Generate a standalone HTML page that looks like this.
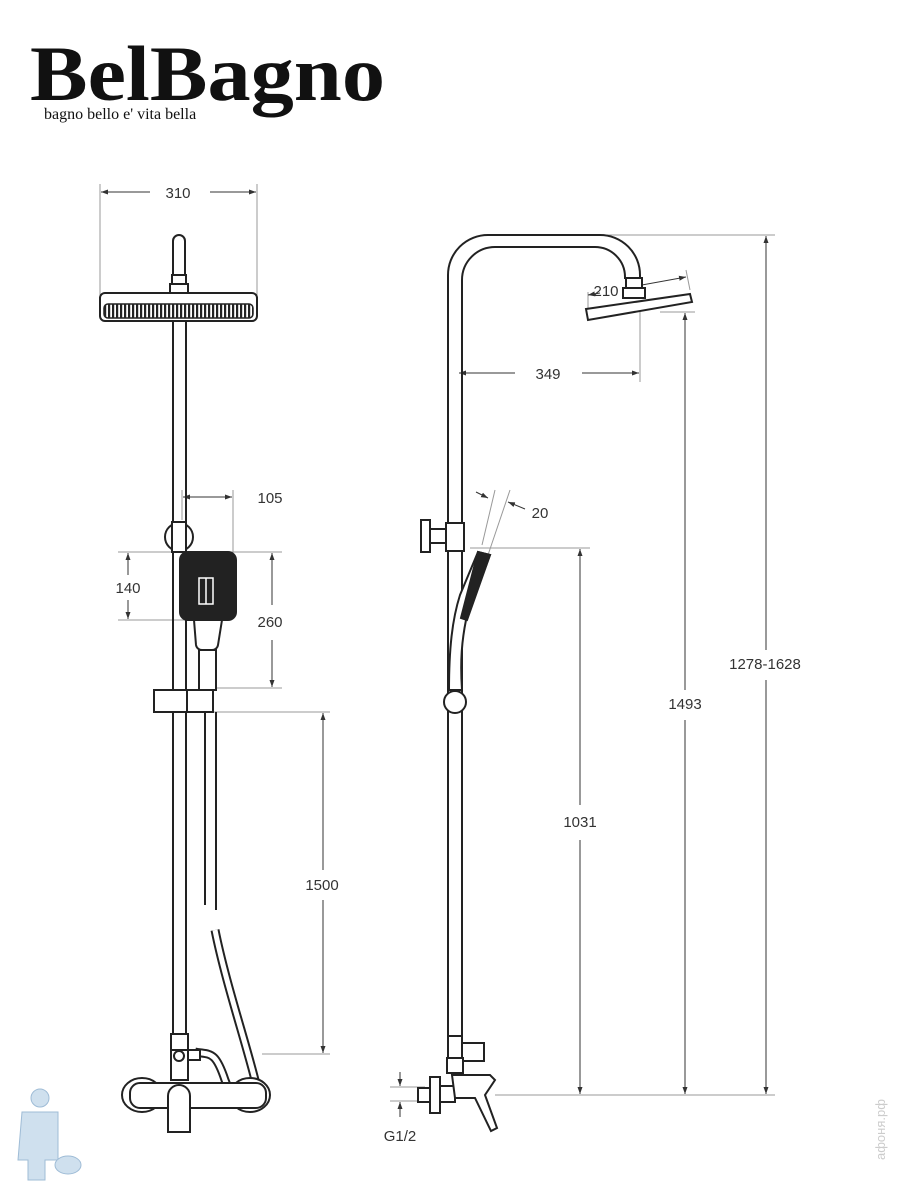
<!DOCTYPE html>
<html><head><meta charset="utf-8"><style>
html,body{margin:0;padding:0;background:#fff;}
svg{display:block}
text{font-family:"Liberation Sans",sans-serif;fill:#333;}
</style></head><body>
<svg width="900" height="1200" viewBox="0 0 900 1200" xmlns="http://www.w3.org/2000/svg">
<defs>
<marker id="a" markerWidth="8" markerHeight="8" refX="7" refY="4" orient="auto" markerUnits="userSpaceOnUse"><path d="M0,1.5 L7,4 L0,6.5z" fill="#333"/></marker>
<marker id="s" markerWidth="8" markerHeight="8" refX="7" refY="4" orient="auto-start-reverse" markerUnits="userSpaceOnUse"><path d="M0,1.5 L7,4 L0,6.5z" fill="#333"/></marker>
<pattern id="st" width="4" height="10" patternUnits="userSpaceOnUse"><rect width="4" height="10" fill="#fff"/><rect width="2.2" height="10" fill="#222"/></pattern>
</defs>
<!-- logo -->
<text x="30" y="100" font-weight="bold" font-size="78" textLength="355" lengthAdjust="spacingAndGlyphs" style="font-family:'Liberation Serif',serif;fill:#111">BelBagno</text>
<text x="44" y="119" style="font-family:'Liberation Serif',serif;fill:#111" font-size="16">bagno bello e' vita bella</text>

<g fill="none" stroke="#999" stroke-width="1">
<line x1="100" y1="184" x2="100" y2="300"/><line x1="257" y1="184" x2="257" y2="300"/>
<line x1="233" y1="490" x2="233" y2="555"/><line x1="182" y1="490" x2="182" y2="520"/>
<line x1="118" y1="552" x2="282" y2="552"/><line x1="118" y1="620" x2="186" y2="620"/>
<line x1="216" y1="688" x2="282" y2="688"/>
<line x1="213" y1="712" x2="330" y2="712"/><line x1="262" y1="1054" x2="330" y2="1054"/>
<line x1="600" y1="235" x2="775" y2="235"/>
<line x1="640" y1="312" x2="640" y2="382"/><line x1="660" y1="312" x2="695" y2="312"/>
<line x1="470" y1="548" x2="590" y2="548"/>
<line x1="495" y1="1095" x2="775" y2="1095"/>
<line x1="390" y1="1087" x2="425" y2="1087"/><line x1="390" y1="1101" x2="425" y2="1101"/>
<line x1="482" y1="545" x2="495" y2="490"/><line x1="488" y1="555" x2="510" y2="490"/>
<line x1="588" y1="292" x2="588" y2="310"/><line x1="686" y1="270" x2="690" y2="290"/>
</g>
<g stroke="#333" stroke-width="1" fill="none">
<line x1="101" y1="192" x2="150" y2="192" marker-start="url(#s)"/>
<line x1="210" y1="192" x2="256" y2="192" marker-end="url(#a)"/>
<line x1="183" y1="497" x2="232" y2="497" marker-start="url(#s)" marker-end="url(#a)"/>
<line x1="128" y1="553" x2="128" y2="575" marker-start="url(#s)"/>
<line x1="128" y1="600" x2="128" y2="619" marker-end="url(#a)"/>
<line x1="272" y1="553" x2="272" y2="605" marker-start="url(#s)"/>
<line x1="272" y1="640" x2="272" y2="687" marker-end="url(#a)"/>
<line x1="323" y1="713" x2="323" y2="870" marker-start="url(#s)"/>
<line x1="323" y1="900" x2="323" y2="1053" marker-end="url(#a)"/>
<line x1="459" y1="373" x2="515" y2="373" marker-start="url(#s)"/>
<line x1="582" y1="373" x2="639" y2="373" marker-end="url(#a)"/>
<line x1="685" y1="313" x2="685" y2="690" marker-start="url(#s)"/>
<line x1="685" y1="720" x2="685" y2="1094" marker-end="url(#a)"/>
<line x1="766" y1="236" x2="766" y2="650" marker-start="url(#s)"/>
<line x1="766" y1="680" x2="766" y2="1094" marker-end="url(#a)"/>
<line x1="580" y1="549" x2="580" y2="805" marker-start="url(#s)"/>
<line x1="580" y1="840" x2="580" y2="1094" marker-end="url(#a)"/>
<line x1="400" y1="1072" x2="400" y2="1086" marker-end="url(#a)"/>
<line x1="400" y1="1117" x2="400" y2="1102" marker-end="url(#a)"/>
<line x1="476" y1="492" x2="488" y2="498" marker-end="url(#a)"/>
<line x1="525" y1="509" x2="508" y2="502" marker-end="url(#a)"/>
<line x1="600" y1="293" x2="588" y2="295" marker-end="url(#a)"/>
<line x1="625" y1="288" x2="686" y2="277" marker-end="url(#a)"/>
</g>
<g font-size="15">
<text x="178" y="198" text-anchor="middle">310</text>
<text x="270" y="503" text-anchor="middle">105</text>
<text x="128" y="593" text-anchor="middle">140</text>
<text x="270" y="627" text-anchor="middle">260</text>
<text x="322" y="890" text-anchor="middle">1500</text>
<text x="548" y="379" text-anchor="middle">349</text>
<text x="606" y="296" text-anchor="middle">210</text>
<text x="540" y="518" text-anchor="middle">20</text>
<text x="685" y="709" text-anchor="middle">1493</text>
<text x="765" y="669" text-anchor="middle">1278-1628</text>
<text x="580" y="827" text-anchor="middle">1031</text>
<text x="400" y="1141" text-anchor="middle">G1/2</text>
</g>

<!-- LEFT VIEW -->
<g stroke="#222" stroke-width="2" fill="#fff">
<path d="M173,282 V241 a6,6 0 0 1 12,0 V282z"/>
<rect x="172" y="275" width="14" height="9"/>
<rect x="170" y="284" width="18" height="10"/>
<rect x="100" y="293" width="157" height="28" rx="5"/>
<rect x="104" y="304" width="149" height="14" rx="4" fill="url(#st)" stroke-width="1.5"/>
<line x1="173" y1="321" x2="173" y2="1040"/><line x1="186" y1="321" x2="186" y2="1040"/>
<circle cx="179" cy="537" r="14"/>
<rect x="172" y="522" width="14" height="30"/>
<path d="M199,650 V690 H216 V650z"/>
<path d="M194,620 H222 L218,645 a6,6 0 0 1 -6,5 H202 a6,6 0 0 1 -6,-5z"/>
<path d="M188,552 H228 a8,8 0 0 1 8,8 V612 a8,8 0 0 1 -8,8 H188 a8,8 0 0 1 -8,-8 V560 a8,8 0 0 1 8,-8z" fill="#222"/>
<rect x="199" y="578" width="14" height="26" fill="none" stroke="#fff" stroke-width="1.5"/>
<line x1="206" y1="578" x2="206" y2="604" stroke="#fff" stroke-width="1.5"/>
<rect x="154" y="690" width="33" height="22"/><rect x="187" y="690" width="26" height="22"/>
<path d="M205,712 V905 M216,712 V910" fill="none"/>
<path d="M215,930 C225,980 245,1040 255,1080 C262,1105 235,1110 225,1080 C215,1050 210,1055 195,1052" fill="none" stroke-width="9" stroke="#222"/>
<path d="M215,930 C225,980 245,1040 255,1080 C262,1105 235,1110 225,1080 C215,1050 210,1055 195,1052" fill="none" stroke-width="5" stroke="#fff"/>
<rect x="171" y="1034" width="17" height="16"/>
<rect x="171" y="1050" width="17" height="30"/>
<circle cx="179" cy="1056" r="5"/>
<rect x="188" y="1050" width="12" height="10"/>
<ellipse cx="142" cy="1095" rx="20" ry="17"/>
<ellipse cx="250" cy="1095" rx="20" ry="17"/>
<rect x="130" y="1083" width="136" height="25" rx="10"/>
<path d="M168,1132 V1096 a11,11 0 0 1 22,0 V1132z"/>
</g>

<!-- RIGHT VIEW -->
<g stroke="#222" stroke-width="2" fill="none">
<path d="M448,1040 V275 a40,40 0 0 1 40,-40 H600 a40,40 0 0 1 40,40 V279"/>
<path d="M462,1040 V280 a33,33 0 0 1 33,-33 H595 a30,30 0 0 1 30,30 V279"/>
<rect x="626" y="278" width="16" height="10" fill="#fff"/>
<rect x="623" y="288" width="22" height="10" fill="#fff"/>
<path d="M586,309 L690,294 L692,302 L588,320z" fill="#fff"/>
<rect x="446" y="523" width="18" height="28" fill="#fff"/>
<rect x="430" y="529" width="16" height="14" fill="#fff"/>
<rect x="421" y="520" width="9" height="32" fill="#fff"/>
<path d="M478,552 L490,555 L466,620 C462,640 460,660 462,690 L449,690 C449,650 452,620 460,595z" fill="#fff"/>
<path d="M478,552 L490,555 L467,620 L461,618z" fill="#222"/>
<circle cx="455" cy="702" r="11" fill="#fff"/>
<rect x="448" y="1036" width="14" height="22" fill="#fff"/>
<rect x="462" y="1043" width="22" height="18" fill="#fff"/>
<rect x="447" y="1058" width="16" height="15" fill="#fff"/>
<rect x="418" y="1088" width="12" height="14" fill="#fff"/>
<rect x="430" y="1077" width="10" height="36" fill="#fff"/>
<rect x="440" y="1086" width="15" height="16" fill="#fff"/>
<path d="M452,1075 H490 L495,1080 L485,1095 L497,1128 L491,1131 L475,1098 H455z" fill="#fff"/>
</g>

<text x="885" y="1160" font-size="13" transform="rotate(-90 885 1160)" style="fill:#ccc">афоня.рф</text>
<g fill="#cfe0ee" stroke="#9fbcd6" stroke-width="1">
<circle cx="40" cy="1098" r="9"/>
<path d="M22,1112 H58 V1160 H45 V1180 H28 V1160 H18z"/>
<ellipse cx="68" cy="1165" rx="13" ry="9"/>
</g>
</svg>
</body></html>
